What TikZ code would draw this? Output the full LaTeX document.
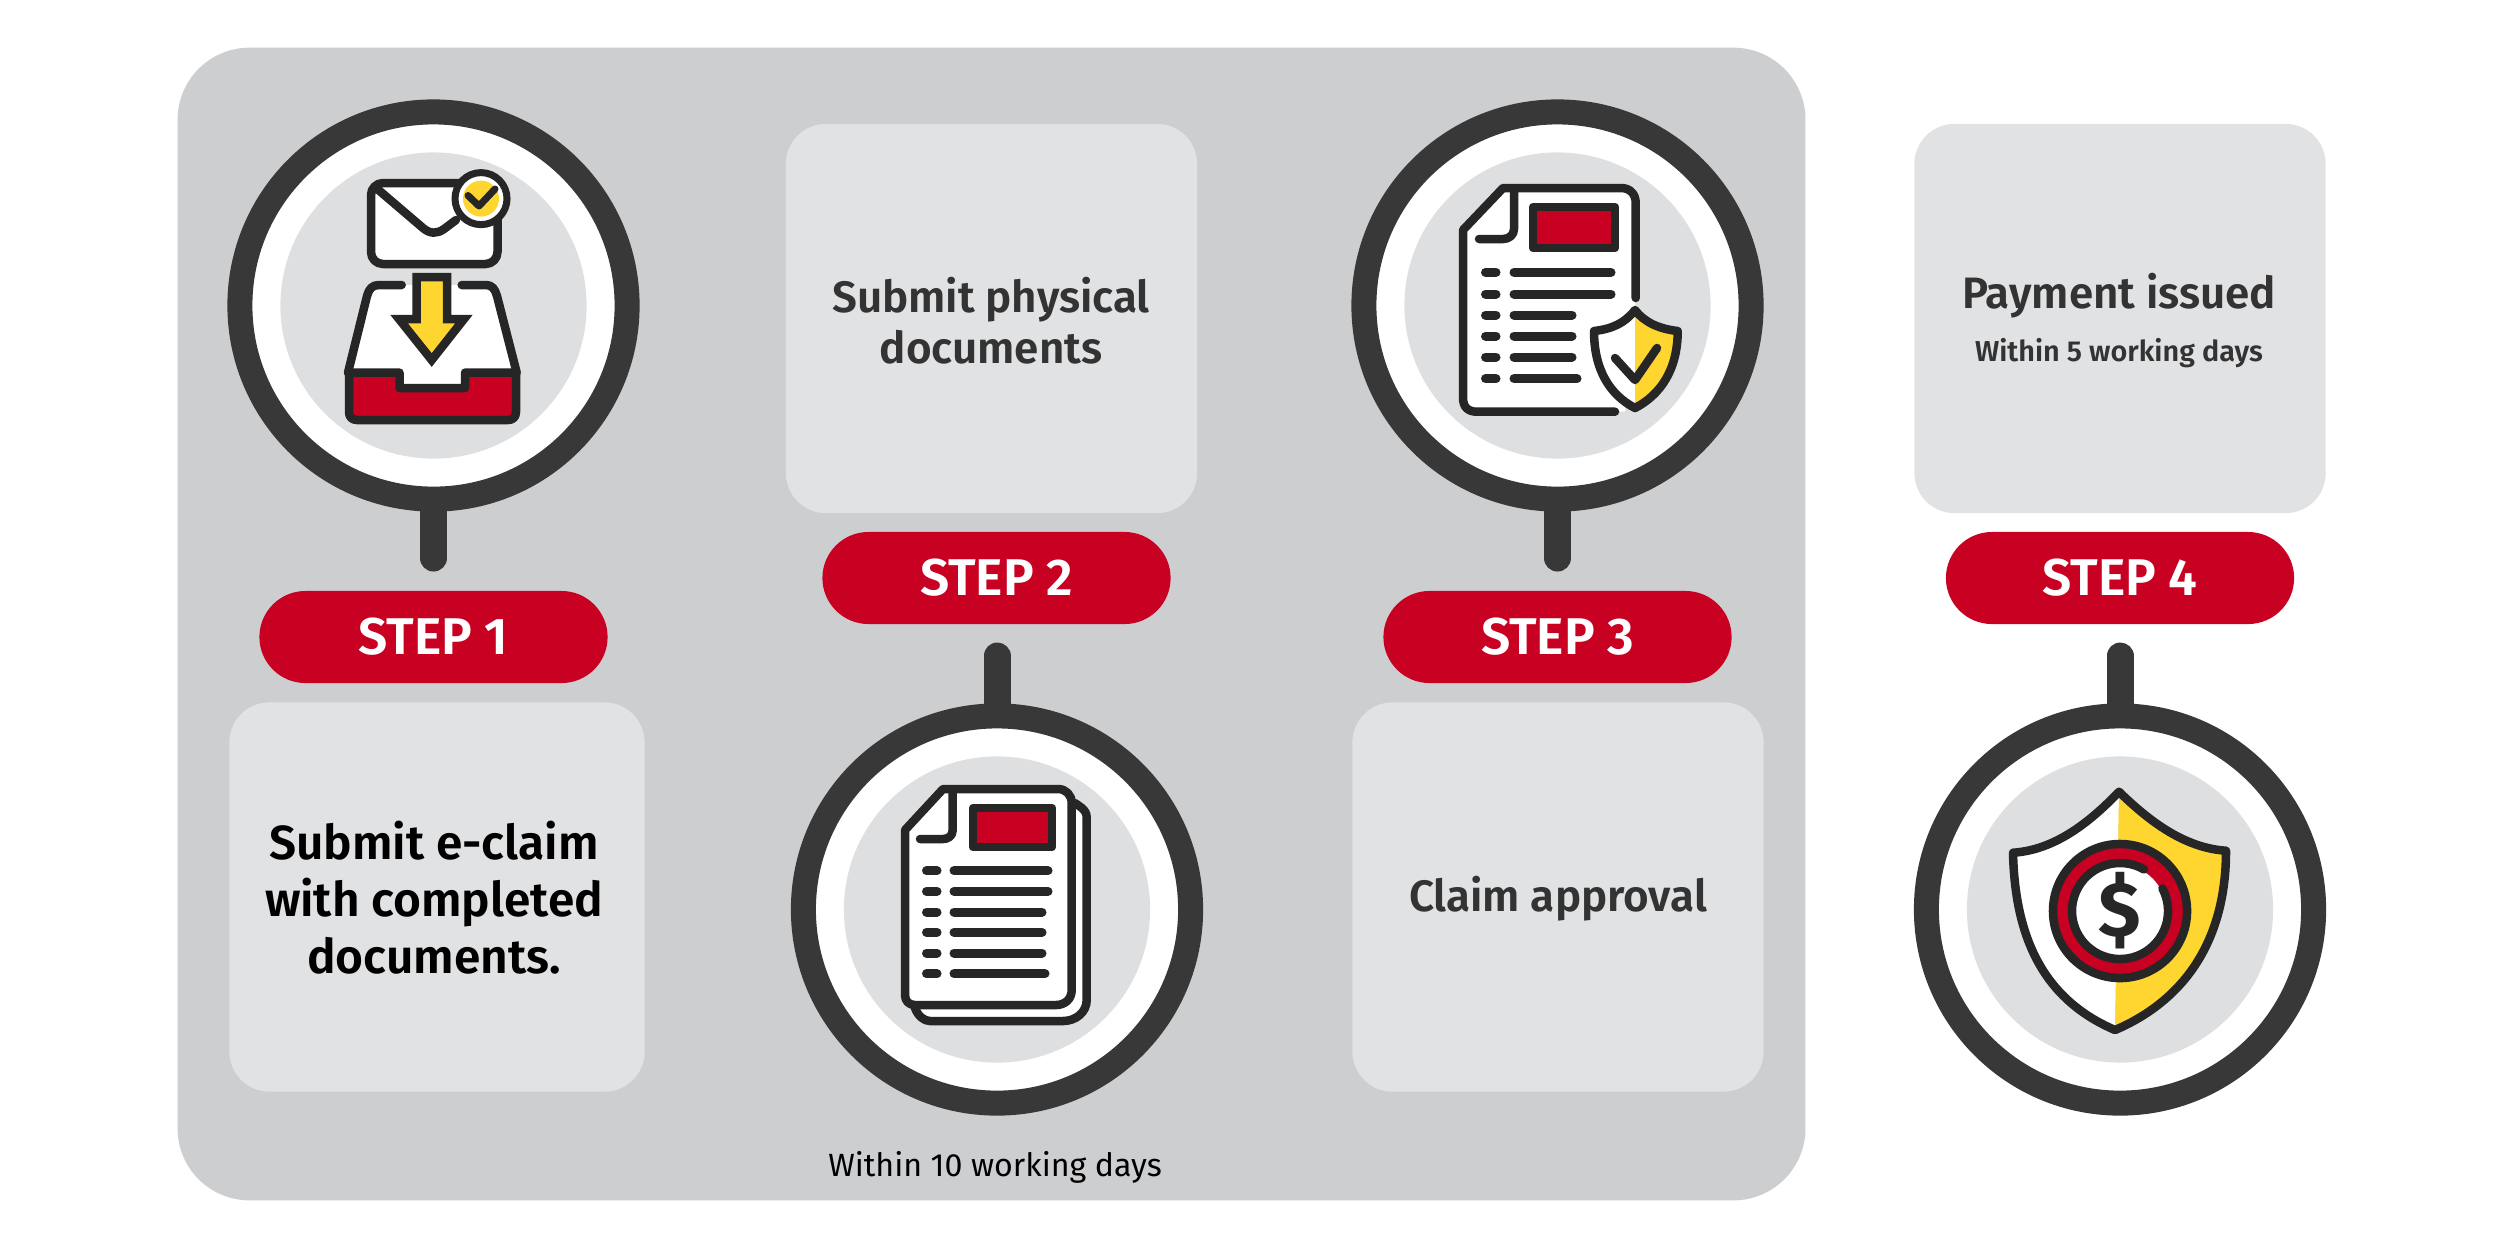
\documentclass[tikz,border=0pt]{standalone}
\usepackage{fontspec}
\setmainfont{Fira Sans}
\newfontfamily\fmed{Fira Sans Medium}
\newfontfamily\fsemi{Fira Sans SemiBold}
\definecolor{panelc}{HTML}{CDCED0}
\definecolor{boxc}{HTML}{E1E2E4}
\definecolor{ringc}{HTML}{383838}
\definecolor{innerc}{HTML}{DEDFE1}
\definecolor{redc}{HTML}{C80021}
\definecolor{yelc}{HTML}{FFD52F}
\definecolor{inkc}{HTML}{262626}
\definecolor{textc}{HTML}{333333}
\tikzset{
  panelbox/.style={fill=panelc,rounded corners=0.72cm,minimum width=16.27cm,minimum height=11.52cm,inner sep=0},
  textbox/.style={fill=boxc,rounded corners=0.4cm,minimum width=4.11cm,minimum height=3.89cm,inner sep=0},
  pill/.style={fill=redc,rounded corners=0.46cm,minimum width=3.48cm,minimum height=0.92cm,inner sep=0,text=white,font=\fsemi\fontsize{14.7pt}{18pt}\selectfont},
  ring/.style={circle,draw=ringc,line width=0.25cm,fill=white,minimum size=3.87cm,inner sep=0,outer sep=0.125cm},
  innerdisc/.style={circle,fill=innerc,minimum size=3.06cm,inner sep=0},
  stem/.style={draw=ringc,line width=0.27cm,line cap=round},
  ink/.style={draw=inkc,line width=0.085cm,line join=round,line cap=round},
  thinink/.style={draw=inkc,line width=0.07cm,line join=round,line cap=round},
  listline/.style={draw=inkc,line width=0.09cm,line cap=round},
  medlabel/.style={text=textc,align=center,inner sep=0,font=\fsemi\fontsize{12.5pt}{14.5pt}\selectfont},
  smalllabel/.style={text=textc,inner sep=0,font=\fsemi\fontsize{8.2pt}{10pt}\selectfont},
}
\begin{document}
\begin{tikzpicture}[x=0.01cm,y=-0.01cm]
\useasboundingbox (0,0) rectangle (2500,1250);
\fill[white] (0,0) rectangle (2500,1250);
\node[panelbox] (panel) at (991.5,624) {};
% text boxes
\node[textbox,minimum width=4.15cm] (box1) at (437,897) {};
\node[textbox] (box2) at (991.5,318.5) {};
\node[textbox] (box3) at (1558,897) {};
\node[textbox] (box4) at (2120,318.5) {};
% labels
\node[text=black,align=center,inner sep=0,font=\fsemi\fontsize{13.6pt}{16.2pt}\selectfont] (t1) at (434,897.5) {Submit e-claim\\with completed\\documents.};
\node[medlabel] (t2) at (991,320.5) {Submit physical\\documents};
\node[medlabel] (t3) at (1558,899) {Claim approval};
\node[medlabel] (t4) at (2119,296) {Payment issued};
\node[smalllabel] (t4b) at (2119,353.5) {Within 5 working days};
\node[text=black,inner sep=0,font=\fontsize{9.14pt}{11pt}\selectfont] (t5) at (995,1167) {Within 10 working days};
% pills
\node[pill] (s1) at (433.5,637) {STEP 1};
\node[pill] (s2) at (996.5,578) {STEP 2};
\node[pill] (s3) at (1557.5,637) {STEP 3};
\node[pill] (s4) at (2120,578) {STEP 4};
% rings
\node[ring] (r1) at (433.5,305.5) {};
\node[ring] (r2) at (997,909.5) {};
\node[ring] (r3) at (1557.5,305.5) {};
\node[ring] (r4) at (2120,909.5) {};
\node[innerdisc] (d1) at (r1) {};
\node[innerdisc] (d2) at (r2) {};
\node[innerdisc] (d3) at (r3) {};
\node[innerdisc] (d4) at (r4) {};
% stems
\coordinate (e1) at (433.5,558);
\coordinate (e2) at (997,656);
\coordinate (e3) at (1557.5,558);
\coordinate (e4) at (2120,656);
\draw[stem] (r1.south) -- (e1);
\draw[stem] (r2.north) -- (e2);
\draw[stem] (r3.south) -- (e3);
\draw[stem] (r4.north) -- (e4);

% ---------- icon 1 : inbox
\draw[ink,fill=white,rounded corners=0.12cm] (371,183) rectangle (497.5,264);
\draw[ink] (375,187) -- (423,228) .. controls (430,234) and (437,234) .. (444,229) -- (456,220);
\fill[white] (352,372) -- (372,292) -- (376,285) -- (490,285) -- (494,292) -- (514,372) -- (465,372) -- (465,388) -- (400,388) -- (400,372) -- cycle;
\draw[ink] (348,372.6) -- (367,296) .. controls (369,289) and (372,285) .. (379,285) -- (401.7,285);
\draw[ink] (461.7,285) -- (486,285) .. controls (492,285) and (495,289) .. (497,296) -- (516.7,372.6);
\draw[ink,fill=redc] (349,372.6) -- (399.5,372.6) -- (399.5,388) -- (465,388) -- (465,372.6) -- (516,372.6) -- (516,412) .. controls (516,417) and (513,420) .. (508,420) -- (357,420) .. controls (352,420) and (349,417) .. (349,412) -- cycle;
\draw[ink,fill=yelc,line join=miter] (416.5,277) -- (447,277) -- (447,319) -- (464,319) -- (431.7,360) -- (399,319) -- (416.5,319) -- cycle;
\draw[thinink,fill=white] (481,198.6) circle[radius=0.26cm];
\fill[yelc] (481,198.6) circle[radius=0.18cm];
\draw[thinink] (468,195.5) -- (479,206) -- (495,189);

% ---------- icon 2 : document stack
\draw[ink,fill=white] (1075,803) -- (1082,808) .. controls (1085,811) and (1086.7,813) .. (1086.7,818) -- (1086.7,1000) .. controls (1086.7,1012) and (1076,1021) .. (1063,1021) -- (930,1021) .. controls (924,1021) and (918,1016) .. (915,1008) -- cycle;
\draw[ink,fill=white] (943,789) -- (1058,789) .. controls (1066,789) and (1071.7,795) .. (1071.7,803) -- (1071.7,990) .. controls (1071.7,999) and (1065,1005) .. (1056,1005) -- (915,1005) .. controls (909,1005) and (905,1001) .. (905,995) -- (905,830) -- cycle;
\draw[ink] (952.7,793) -- (952.7,830) .. controls (952.7,836) and (948,839) .. (943,839) -- (920,839);
\draw[ink,fill=redc,line join=round] (973,808) rectangle (1052,847);
\foreach \yy/\xe in {870.7/1048,891.3/1048,912/1042,932.3/1042,953/1042,973.7/1045}{
  \draw[listline] (926.5,\yy) -- (937,\yy);
  \draw[listline] (954,\yy) -- (\xe,\yy);
}

% ---------- icon 3 : document with shield
\fill[white] (1503,188) -- (1463,230) -- (1463,411.7) -- (1625,411.7) -- (1635.7,300) -- (1635.7,188) -- cycle;
\draw[ink] (1635.7,298) -- (1635.7,203) .. controls (1635.7,194) and (1630,188) .. (1621,188) -- (1503,188) -- (1463,230) -- (1463,398) .. controls (1463,407) and (1468,411.7) .. (1477,411.7) -- (1615,411.7);
\draw[ink] (1514,192) -- (1514,229) .. controls (1514,235) and (1509,239) .. (1503,239) -- (1479,239);
\draw[ink,fill=redc] (1533,207) rectangle (1615,248);
\foreach \yy/\xe in {272.3/1611,294/1611,315/1572,336/1572,357/1572,378.7/1577}{
  \draw[listline] (1485.5,\yy) -- (1496,\yy);
  \draw[listline] (1514,\yy) -- (\xe,\yy);
}
\fill[white] (1635,310) .. controls (1625,323) and (1612,329) .. (1594,331) .. controls (1594,370) and (1610,395) .. (1635,408) -- cycle;
\fill[yelc] (1635,310) .. controls (1645,323) and (1660,329) .. (1677.7,331) .. controls (1677.7,370) and (1660,395) .. (1635,408) -- cycle;
\draw[ink] (1635,310) .. controls (1625,323) and (1612,329) .. (1594,331) .. controls (1594,370) and (1610,395) .. (1635,408) .. controls (1660,395) and (1677.7,370) .. (1677.7,331) .. controls (1660,329) and (1645,323) .. (1635,310) -- cycle;
\draw[ink] (1615,358) -- (1635,380) -- (1657,348);

% ---------- icon 4 : shield with coin
\fill[white] (2119,791.7) .. controls (2090,822) and (2055,850) .. (2013,852.7) .. controls (2015,940) and (2045,1000) .. (2115,1030) -- cycle;
\fill[yelc] (2119,791.7) .. controls (2150,822) and (2185,848) .. (2226,850.7) .. controls (2226,940) and (2185,1000) .. (2115,1030) -- cycle;
\draw[ink] (2119,791.7) .. controls (2090,822) and (2055,850) .. (2013,852.7) .. controls (2015,940) and (2045,1000) .. (2115,1030) .. controls (2185,1000) and (2226,940) .. (2226,850.7) .. controls (2185,848) and (2150,822) .. (2119,791.7) -- cycle;
\draw[ink,fill=redc] (2120,911) circle[radius=0.67cm];
\fill[white] (2120,911) circle[radius=0.46cm];
\draw[ink] (2120,911) ++(60:0.48cm) arc[start angle=60,end angle=388,radius=0.48cm];
\node[text=inkc,inner sep=0,font=\bfseries\fontsize{22pt}{24pt}\selectfont] (dollar) at (2120,911) {\$};
\end{tikzpicture}
\end{document}
